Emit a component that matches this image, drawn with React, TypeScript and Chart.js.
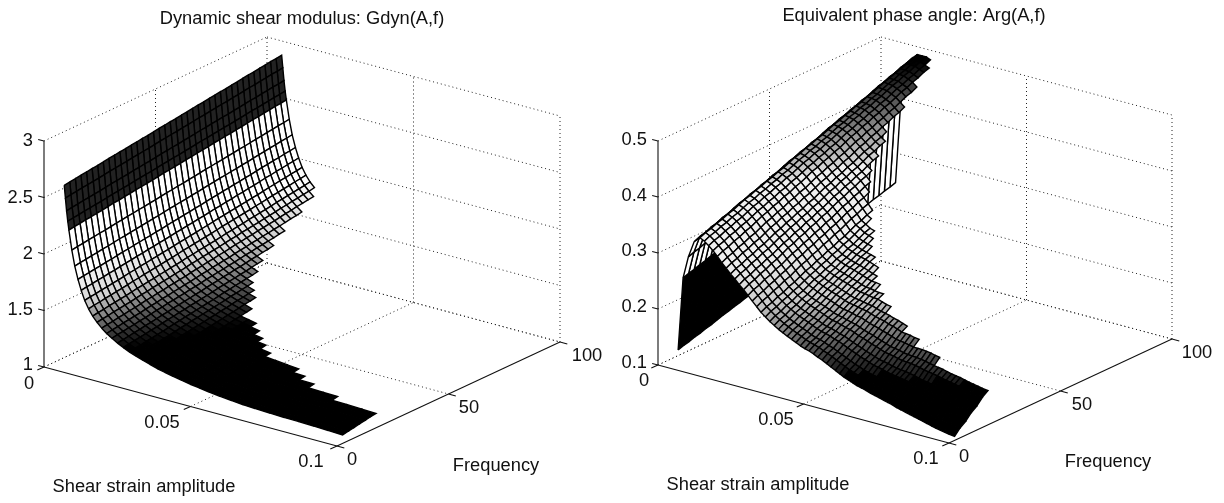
import React, { useEffect, useRef } from "react";
import { Chart, registerables } from "chart.js";

Chart.register(...registerables);

// Values are read off the picture. Each surface table is built from these arrays:
// value(A, f) = value at the lowest frequency + rise of that row x share of rise at f.
const frequencies = [2.5,5,7.5,10,12.5,15,17.5,20,22.5,25,27.5,30,32.5,35,37.5,40,42.5,45,47.5,50,52.5,55,57.5,60,62.5,65,67.5,70,72.5,75,77.5,80,82.5,85,87.5,90,92.5,95,97.5,100];
const riseShare = [0,.03,.05,.08,.10,.13,.15,.18,.21,.23,.26,.28,.31,.33,.36,.38,.41,.44,.46,.49,.51,.54,.56,.59,.62,.64,.67,.69,.72,.74,.77,.79,.82,.85,.87,.90,.92,.95,.97,1];

const gdynAmplitudes = [.005,.0054,.0058,.0062,.0066,.0076,.0086,.0097,.0108,.012,.0133,.0147,.0162,.0178,.0195,.0213,.0232,.0252,.0273,.0295,.0318,.0342,.0367,.0393,.042,.045,.048,.051,.0545,.058,.062,.066,.07,.075,.08,.085,.09,.095,.1];
const gdynAtLowFrequency = [2.62,2.51,2.40,2.31,2.235,2.065,1.93,1.82,1.73,1.65,1.585,1.53,1.485,1.445,1.41,1.38,1.35,1.325,1.30,1.28,1.26,1.24,1.22,1.205,1.19,1.175,1.16,1.15,1.135,1.125,1.115,1.105,1.10,1.095,1.09,1.088,1.085,1.08,1.075];
const gdynRise = [.255,.255,.255,.255,.255,.26,.265,.27,.275,.28,.285,.29,.295,.30,.30,.30,.305,.305,.31,.31,.31,.315,.315,.32,.32,.32,.325,.325,.33,.33,.33,.335,.335,.34,.34,.34,.345,.345,.35];
const gdynLastAmplitude = [.1,.1,.1,.1,.1,.1,.1,.088,.078,.07,.0664,.0564,.052,.05,.0464,.042,.039,.038,.036,.0347,.033,.031,.0294,.028,.027,.026,.025,.024,.0235,.0228,.022,.0215,.021,.0205,.02,.0195,.019,.0185,.018,.0175];

const argAmplitudes = [.005,.0067,.0085,.0105,.0125,.014,.0155,.017,.0185,.02,.0215,.023,.0245,.026,.0275,.029,.0305,.032,.0335,.035,.0365,.038,.0395,.041,.0425,.044,.0455,.047,.0485,.05,.0515,.053,.0545,.056,.0575,.059,.0605,.062,.0635,.065,.0665,.068,.0695,.071,.0725,.074,.0755,.077,.0785,.08,.0815,.083,.0845,.086,.0875,.089,.0905,.092,.0935,.095,.0965,.098,.1];
const argAtLowFrequency = [.129,.26,.30,.33,.34,.336,.33,.323,.315,.306,.298,.29,.283,.275,.268,.26,.252,.244,.236,.23,.224,.219,.214,.21,.206,.2025,.199,.195,.192,.19,.187,.183,.18,.176,.172,.168,.164,.16,.157,.154,.151,.149,.147,.144,.142,.14,.138,.136,.134,.131,.129,.127,.125,.123,.121,.119,.117,.115,.113,.1115,.11,.1085,.107];
const argRise = [.118,.127,.137,.146,.146,.15,.156,.16,.165,.168,.17,.172,.175,.178,.18,.18,.18,.178,.175,.178,.18,.185,.19,.195,.20,.203,.205,.208,.21,.215,.22,.23,.24,.245,.25,.26,.27,.275,.28,.28,.28,.285,.29,.295,.30,.31,.32,.325,.33,.335,.34,.345,.35,.35,.35,.355,.36,.36,.36,.36,.36,.36,.36];
const argLastAmplitude = [.1,.1,.1,.1,.1,.1,.1,.082,.0738,.0674,.06,.055,.0517,.0498,.047,.0446,.042,.04,.038,.0362,.0335,.0314,.03,.0285,.027,.0262,.0256,.0245,.0237,.0229,.0228,.0226,.0215,.021,.0205,.02,.0198,.019,.0185,.018];

const gdynZTicks = ["1","1.5","2","2.5","3"];
const argZTicks = ["0.1","0.2","0.3","0.4","0.5"];
const amplitudeTicks = [0, 0.05, 0.1];
const frequencyTicks = [0, 50, 100];

type Panel = {
  ox: number; oy: number; ax: number; ay: number; fx: number; fy: number; zs: number;
  zMin: number; zTicks: string[];
  amps: number[]; low: number[]; rise: number[]; last: number[];
  shade: (lo: number, A: number) => string;
  labels: { t: string; x: number; y: number; a: CanvasTextAlign }[];
};

const grey = (v: number) => { const c = Math.round(Math.max(0, Math.min(255, v))); return `rgb(${c},${c},${c})`; };
const ramp = (v: number, a: number, b: number, ca: number, cb: number) => ca + ((v - a) / (b - a)) * (cb - ca);

const gdynShade = (lo: number, A: number) => {
  if (A < 0.0066) return "#222";
  if (lo < 1.3) return "#000";
  if (lo < 1.6) return grey(ramp(lo, 1.3, 1.6, 0, 210));
  if (lo < 1.8) return grey(ramp(lo, 1.6, 1.8, 210, 250));
  return "#fff";
};
const argShade = (lo: number, A: number) => {
  if (A < 0.0067) return lo < 0.19 ? "#000" : "#fff";
  if (A < 0.012 && lo < 0.38) return "#fff";
  if (lo < 0.16) return "#000";
  if (lo < 0.24) return grey(ramp(lo, 0.16, 0.24, 20, 205));
  if (lo < 0.3) return grey(ramp(lo, 0.24, 0.3, 205, 240));
  if (lo < 0.38) return "rgb(240,240,240)";
  return grey(ramp(lo, 0.38, 0.47, 220, 20));
};

const panels: Panel[] = [
  {
    ox: 44, oy: 367, ax: 2930, ay: 790, fx: 2.23, fy: -1.04, zs: 113, zMin: 1, zTicks: gdynZTicks,
    amps: gdynAmplitudes, low: gdynAtLowFrequency, rise: gdynRise, last: gdynLastAmplitude,
    shade: gdynShade,
    labels: [
      { t: "Dynamic shear modulus: Gdyn(A,f)", x: 302, y: 19, a: "center" },
      { t: "3", x: 33, y: 141, a: "right" }, { t: "2.5", x: 33, y: 198, a: "right" }, { t: "2", x: 33, y: 254, a: "right" },
      { t: "1.5", x: 33, y: 310, a: "right" }, { t: "1", x: 33, y: 365, a: "right" },
      { t: "0", x: 29, y: 384, a: "center" }, { t: "0.05", x: 162, y: 423, a: "center" }, { t: "0.1", x: 311, y: 462, a: "center" },
      { t: "0", x: 352, y: 460, a: "center" }, { t: "50", x: 469, y: 408, a: "center" }, { t: "100", x: 587, y: 356, a: "center" },
      { t: "Shear strain amplitude", x: 144, y: 487, a: "center" }, { t: "Frequency", x: 496, y: 466, a: "center" },
    ],
  },
  {
    ox: 46, oy: 365, ax: 2910, ay: 780, fx: 2.23, fy: -1.04, zs: 560, zMin: 0.1, zTicks: argZTicks,
    amps: argAmplitudes, low: argAtLowFrequency, rise: argRise, last: argLastAmplitude,
    shade: argShade,
    labels: [
      { t: "Equivalent phase angle: Arg(A,f)", x: 302, y: 16, a: "center" },
      { t: "0.5", x: 35, y: 140, a: "right" }, { t: "0.4", x: 35, y: 196, a: "right" }, { t: "0.3", x: 35, y: 251, a: "right" },
      { t: "0.2", x: 35, y: 307, a: "right" }, { t: "0.1", x: 35, y: 363, a: "right" },
      { t: "0", x: 32, y: 381, a: "center" }, { t: "0.05", x: 164, y: 420, a: "center" }, { t: "0.1", x: 314, y: 459, a: "center" },
      { t: "0", x: 352, y: 457, a: "center" }, { t: "50", x: 470, y: 405, a: "center" }, { t: "100", x: 585, y: 353, a: "center" },
      { t: "Shear strain amplitude", x: 146, y: 485, a: "center" }, { t: "Frequency", x: 496, y: 462, a: "center" },
    ],
  },
];

function buildDatasets(p: Panel) {
  const zRange = p.zTicks.map(Number);
  const project = (A: number, f: number, z: number) => ({
    x: p.ox + p.ax * A + p.fx * f,
    y: p.oy + p.ay * A + p.fy * f - p.zs * (z - p.zMin),
  });
  const value = (i: number, j: number) => p.low[i] + p.rise[i] * riseShare[j];
  const out: any[] = [];

  // Nearest cells first: Chart.js paints the first dataset last, which hides what lies behind.
  for (let i = p.amps.length - 2; i >= 0; i--) {
    for (let j = 0; j < frequencies.length - 1; j++) {
      if (p.amps[i + 1] > p.last[j + 1] + 1e-6) continue;
      const zs = [value(i, j), value(i, j + 1), value(i + 1, j + 1), value(i + 1, j)];
      const a = project(p.amps[i], frequencies[j], zs[0]);
      const b = project(p.amps[i], frequencies[j + 1], zs[1]);
      const c = project(p.amps[i + 1], frequencies[j + 1], zs[2]);
      const d = project(p.amps[i + 1], frequencies[j], zs[3]);
      out.push({
        data: [a, b, c, d, { ...a }], pointRadius: 0, tension: 0, borderColor: "#000", borderWidth: 1.4,
        backgroundColor: p.shade(Math.min(...zs), p.amps[i]), fill: "shape", clip: false,
      });
    }
  }

  const seg = (u: any, v: any, dotted: boolean) => out.push({
    data: [u, v], pointRadius: 0, borderColor: dotted ? "#222" : "#111", borderWidth: dotted ? 1 : 1.1,
    borderDash: dotted ? [1, 3] : [], fill: false, clip: false,
  });
  const aMax = amplitudeTicks[amplitudeTicks.length - 1];
  const fMax = frequencyTicks[frequencyTicks.length - 1];
  const zBot = zRange[0];
  const zTop = zRange[zRange.length - 1];

  zRange.forEach((z) => {
    seg(project(0, 0, z), project(0, fMax, z), true);
    seg(project(0, fMax, z), project(aMax, fMax, z), true);
    seg(project(0, 0, z), project(-0.002, 0, z), false);
  });
  amplitudeTicks.forEach((A) => {
    if (A < aMax) seg(project(A, 0, zBot), project(A, fMax, zBot), true);
    if (A > 0) seg(project(A, fMax, zBot), project(A, fMax, zTop), true);
    seg(project(A, 0, zBot), project(A, -3, zBot), false);
  });
  frequencyTicks.forEach((f) => {
    if (f > 0) {
      seg(project(0, f, zBot), project(aMax, f, zBot), true);
      seg(project(0, f, zBot), project(0, f, zTop), true);
    }
    seg(project(aMax, f, zBot), project(aMax + 0.0025, f, zBot), false);
  });
  seg(project(0, 0, zBot), project(aMax, 0, zBot), false);
  seg(project(aMax, 0, zBot), project(aMax, fMax, zBot), false);
  seg(project(0, 0, zBot), project(0, 0, zTop), false);
  return out;
}

function PanelChart({ panel }: { panel: Panel }) {
  const ref = useRef<HTMLCanvasElement | null>(null);
  useEffect(() => {
    const textPlugin = {
      id: "panelText",
      afterDraw(chart: any) {
        const { ctx, scales } = chart;
        ctx.save();
        ctx.fillStyle = "#111";
        ctx.font = '18.3px "Liberation Sans", Arial, sans-serif';
        ctx.textBaseline = "middle";
        panel.labels.forEach((l) => {
          ctx.textAlign = l.a;
          ctx.fillText(l.t, scales.x.getPixelForValue(l.x), scales.y.getPixelForValue(l.y));
        });
        ctx.restore();
      },
    };
    const chart = new Chart(ref.current as HTMLCanvasElement, {
      type: "line",
      data: { datasets: buildDatasets(panel) },
      options: {
        animation: false, responsive: false, devicePixelRatio: 1, events: [],
        layout: { padding: 0 },
        plugins: { legend: { display: false }, tooltip: { enabled: false }, title: { display: false } },
        scales: {
          x: { type: "linear", min: 0, max: 612, display: false },
          y: { type: "linear", min: 0, max: 503, reverse: true, display: false },
        },
      } as any,
      plugins: [textPlugin],
    });
    return () => chart.destroy();
  }, [panel]);
  return <canvas ref={ref} width={612} height={503} style={{ display: "block", width: 612, height: 503 }} />;
}

export default function App() {
  return (
    <div style={{ position: "absolute", left: 0, top: 0, width: 1224, height: 503, display: "flex", background: "#fff" }}>
      {panels.map((p, i) => <PanelChart key={i} panel={p} />)}
    </div>
  );
}
